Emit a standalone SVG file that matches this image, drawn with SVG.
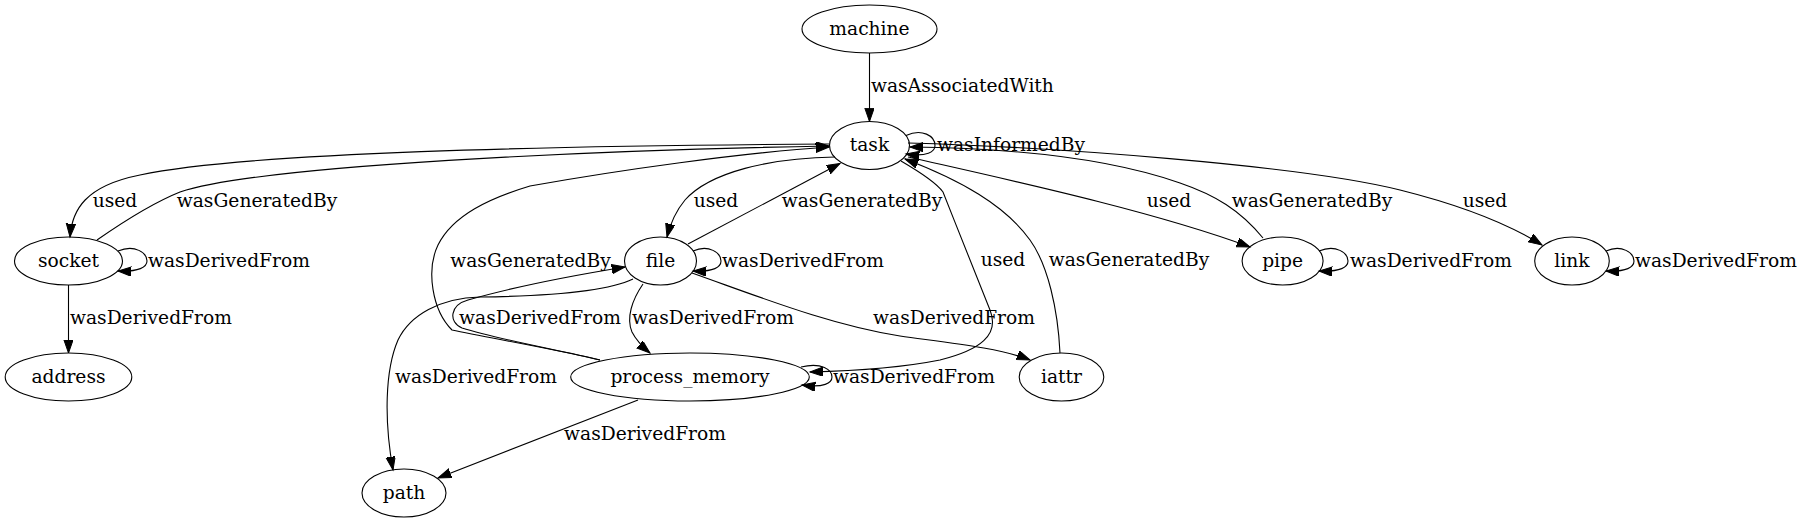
<svg xmlns="http://www.w3.org/2000/svg" width="1803" height="523" viewBox="0 0 1803 523">
<style>
text{font-family:"DejaVu Serif","Liberation Serif",serif;font-size:18.67px;fill:#000}
.n ellipse{fill:none;stroke:#000;stroke-width:1.1}
.n text{text-anchor:middle}
.e path{fill:none;stroke:#000;stroke-width:1.1;marker-end:url(#a)}
.m{text-anchor:middle}
</style>
<defs>
<marker id="a" markerUnits="userSpaceOnUse" markerWidth="15" markerHeight="11" refX="13.3" refY="4.67" orient="auto">
<path d="M0,0 L13.3,4.67 L0,9.33 z" fill="#000" stroke="#000" stroke-width="1"/>
</marker>
</defs>
<rect width="1803" height="523" fill="#fff"/>
<g class="e" id="edges">
<path d="M869.5,53 L869.5,121.5"/>
<path d="M906,135.5 C922,128 935,136 935,145.5 C935,152 927,157 906,154"/>
<path d="M829,144 C550,146 250,152 140,175 C85,186 72,210 70,237"/>
<path d="M97,240 C120,224 150,204 180,192 C260,165 600,150 829,146"/>
<path d="M118,251 C135,244 147,253 147,261 C147,267 139,272 118,271"/>
<path d="M68.5,285 L68.5,353"/>
<path d="M835,157 C770,158 710,172 685,200 C675,212 670,225 667,237"/>
<path d="M688,244 L840,163.5"/>
<path d="M693,251 C709,244 721,253 721,261 C721,267 714,272 693,271"/>
<path d="M600,360 C560,350 490,338 452,330 C432,310 426,270 438,245 C453,215 490,198 530,186 C620,170 740,153 829,147"/>
<path d="M600,360 C560,350 500,340 462,328 C448,322 450,305 468,300 C510,288 570,276 625,267"/>
<path d="M643,284 C632,300 626,318 632,332 C637,342 644,348 650,353"/>
<path d="M633,279 C610,290 560,296 480,297 C440,298 410,315 398,340 C385,370 384,420 393,470"/>
<path d="M692,273 C760,297 830,325 900,336 C950,343 1000,348 1030,360"/>
<path d="M901,161 C925,175 938,185 943,192 C960,235 980,285 990,310 C1000,335 980,350 940,360 C900,368 850,371 810,372"/>
<path d="M1060,353 C1058,310 1048,265 1030,240 C1005,205 960,180 905,159"/>
<path d="M801,367 C822,362 832,370 832,377 C832,383 824,388 802,385"/>
<path d="M638,400 L438,478"/>
<path d="M908,157 C1000,178 1150,210 1250,247"/>
<path d="M1263,238 C1240,210 1215,195 1180,183 C1100,155 1000,148 910,147"/>
<path d="M1319,251 C1336,244 1348,253 1348,261 C1348,267 1341,272 1319,271"/>
<path d="M908,143 C1050,147 1300,165 1400,190 C1460,205 1510,225 1542,245"/>
<path d="M1606,251 C1622,244 1634,253 1634,261 C1634,267 1627,272 1606,271"/>
</g>
<g id="edge-labels">
<text x="871" y="92">wasAssociatedWith</text>
<text x="937" y="150.5">wasInformedBy</text>
<text class="m" x="115" y="207">used</text>
<text class="m" x="257" y="207">wasGeneratedBy</text>
<text x="148" y="267">wasDerivedFrom</text>
<text x="70" y="324">wasDerivedFrom</text>
<text class="m" x="716" y="207">used</text>
<text class="m" x="862" y="207">wasGeneratedBy</text>
<text x="722" y="267">wasDerivedFrom</text>
<text class="m" x="530.5" y="267">wasGeneratedBy</text>
<text class="m" x="540" y="324">wasDerivedFrom</text>
<text class="m" x="713" y="324">wasDerivedFrom</text>
<text class="m" x="954" y="324">wasDerivedFrom</text>
<text class="m" x="476" y="383">wasDerivedFrom</text>
<text x="833" y="383">wasDerivedFrom</text>
<text class="m" x="645" y="440">wasDerivedFrom</text>
<text class="m" x="1003" y="266">used</text>
<text class="m" x="1129" y="266">wasGeneratedBy</text>
<text class="m" x="1169" y="207">used</text>
<text class="m" x="1312" y="207">wasGeneratedBy</text>
<text x="1350" y="267">wasDerivedFrom</text>
<text class="m" x="1485" y="207">used</text>
<text x="1635" y="267">wasDerivedFrom</text>
</g>
<g class="n" id="machine"><ellipse cx="869.5" cy="29" rx="67.5" ry="24"/><text x="869.5" y="34.7">machine</text></g>
<g class="n" id="task"><ellipse cx="869.5" cy="145.5" rx="40" ry="24"/><text x="869.5" y="151.2">task</text></g>
<g class="n" id="socket"><ellipse cx="68.5" cy="261" rx="54" ry="24"/><text x="68.5" y="266.7">socket</text></g>
<g class="n" id="file"><ellipse cx="660.5" cy="261" rx="36" ry="24"/><text x="660.5" y="266.7">file</text></g>
<g class="n" id="pipe"><ellipse cx="1282.6" cy="261" rx="40.5" ry="24"/><text x="1282.6" y="266.7">pipe</text></g>
<g class="n" id="link"><ellipse cx="1572" cy="261" rx="37.3" ry="24"/><text x="1572" y="266.7">link</text></g>
<g class="n" id="address"><ellipse cx="68.5" cy="377" rx="63.3" ry="24"/><text x="68.5" y="382.7">address</text></g>
<g class="n" id="process_memory"><ellipse cx="690" cy="377" rx="119.3" ry="24"/><text x="690" y="382.7">process_memory</text></g>
<g class="n" id="iattr"><ellipse cx="1061.5" cy="377" rx="42.3" ry="24"/><text x="1061.5" y="382.7">iattr</text></g>
<g class="n" id="path"><ellipse cx="404" cy="493" rx="42" ry="24"/><text x="404" y="498.7">path</text></g>
</svg>
